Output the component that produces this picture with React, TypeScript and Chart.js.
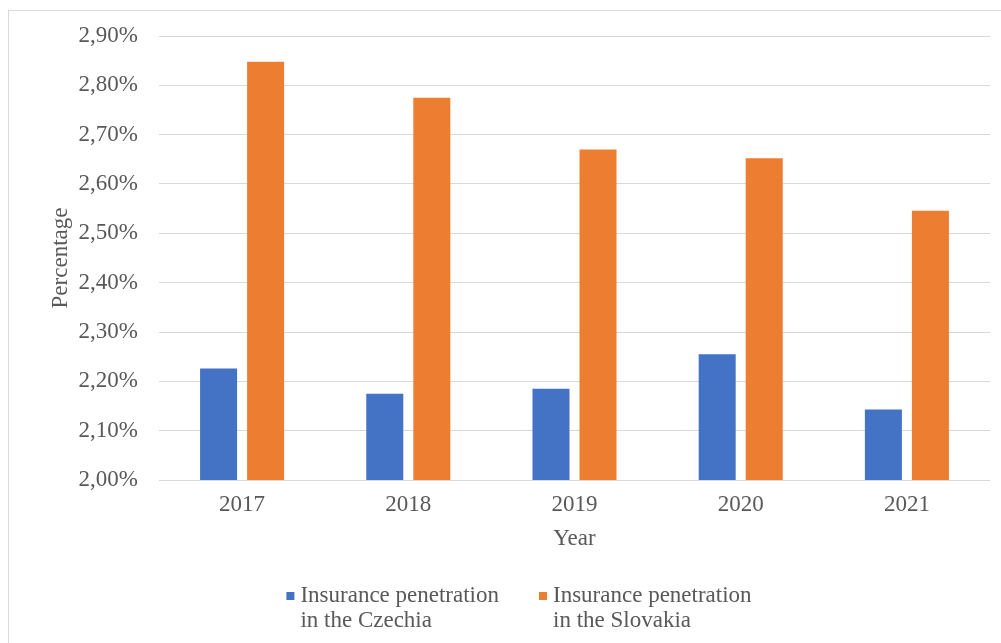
import React, { useEffect, useRef } from 'react';
import { Chart, registerables } from 'chart.js';

Chart.register(...registerables);

const years = ['2017', '2018', '2019', '2020', '2021'];
const czechia = [2.226, 2.175, 2.185, 2.255, 2.143];
const slovakia = [2.848, 2.775, 2.67, 2.652, 2.546];
const czechiaLegend = ['Insurance penetration', 'in the Czechia'];
const slovakiaLegend = ['Insurance penetration', 'in the Slovakia'];
const yMin = 2.0;
const yMax = 2.9;
const yStep = 0.1;

const FONT = '"Liberation Serif", "Times New Roman", serif';
const FONT_SIZE = 23;
const TEXT = '#595959';
const GRID = '#d9d9d9';
const BLUE = '#4472C4';
const ORANGE = '#ED7D31';

const CANVAS_W = 1000;
const CANVAS_H = 632;

const legendPlugin = {
  id: 'customLegend',
  afterDraw(chart: any) {
    const ctx = chart.ctx as CanvasRenderingContext2D;
    ctx.save();
    ctx.font = `${FONT_SIZE}px ${FONT}`;
    const items = chart.data.datasets.map((ds: any) => ({ lines: ds.legendLines as string[], color: ds.backgroundColor as string }));
    const box = 8;
    const gapBox = 6;
    const gapItem = 40;
    const lineH = 25;
    const widths = items.map((it: any) => box + gapBox + Math.max(...it.lines.map((l: string) => ctx.measureText(l).width)));
    const total = widths.reduce((a: number, b: number) => a + b, 0) + gapItem * (items.length - 1);
    let x = 510 - total / 2;
    const y0 = 585;
    items.forEach((it: any, i: number) => {
      ctx.fillStyle = it.color;
      ctx.fillRect(x, y0 - box / 2, box, box);
      ctx.fillStyle = TEXT;
      ctx.textBaseline = 'middle';
      ctx.textAlign = 'left';
      it.lines.forEach((l: string, j: number) => ctx.fillText(l, x + box + gapBox, y0 + j * lineH));
      x += widths[i] + gapItem;
    });
    ctx.restore();
  },
};

export default function App() {
  const ref = useRef<HTMLCanvasElement | null>(null);

  useEffect(() => {
    if (!ref.current) return;
    const chart = new Chart(ref.current, {
      type: 'bar',
      data: {
        labels: years,
        datasets: [
          {
            label: czechiaLegend.join(' '),
            data: czechia,
            backgroundColor: BLUE,
            categoryPercentage: 0.566,
            barPercentage: 0.787,
            legendLines: czechiaLegend,
          } as any,
          {
            label: slovakiaLegend.join(' '),
            data: slovakia,
            backgroundColor: ORANGE,
            categoryPercentage: 0.566,
            barPercentage: 0.787,
            legendLines: slovakiaLegend,
          } as any,
        ],
      },
      options: {
        responsive: false,
        animation: false,
        layout: { padding: { left: 34, right: 19, top: 25, bottom: 89 } },
        font: { family: FONT, size: FONT_SIZE },
        plugins: {
          legend: { display: false },
          tooltip: { enabled: false },
        },
        scales: {
          x: {
            grid: { display: false },
            border: { display: false },
            ticks: {
              color: TEXT,
              font: { family: FONT, size: FONT_SIZE },
              padding: 3,
            },
            title: {
              display: true,
              text: 'Year',
              color: TEXT,
              font: { family: FONT, size: FONT_SIZE },
              padding: { top: 4, bottom: 1 },
            },
            afterFit: (scale: any) => {
              scale.height = 74;
            },
          },
          y: {
            min: yMin,
            max: yMax,
            border: { display: false },
            grid: {
              color: GRID,
              lineWidth: 1,
              drawTicks: true,
              tickLength: 21,
              tickColor: 'rgba(0,0,0,0)',
              tickWidth: 0,
            },
            ticks: {
              stepSize: yStep,
              color: TEXT,
              font: { family: FONT, size: FONT_SIZE },
              padding: 0,
              callback: (v: any) => Number(v).toFixed(2).replace('.', ',') + '%',
            },
            title: {
              display: true,
              text: 'Percentage',
              color: TEXT,
              font: { family: FONT, size: FONT_SIZE },
              padding: { top: 4, bottom: 4 },
            },
            afterFit: (scale: any) => {
              scale.width = 116;
            },
          },
        },
      } as any,
      plugins: [legendPlugin],
    });
    return () => chart.destroy();
  }, []);

  return (
    <div style={{ position: 'fixed', left: 0, top: 0, width: 1001, height: 643, overflow: 'hidden', background: '#fff' }}>
      <div
        style={{
          position: 'absolute',
          left: 8,
          top: 10,
          width: 1040,
          height: 660,
          border: '1px solid #d9d9d9',
          boxSizing: 'border-box',
        }}
      >
        <canvas ref={ref} width={CANVAS_W} height={CANVAS_H} style={{ display: 'block', width: CANVAS_W, height: CANVAS_H }} />
      </div>
    </div>
  );
}
